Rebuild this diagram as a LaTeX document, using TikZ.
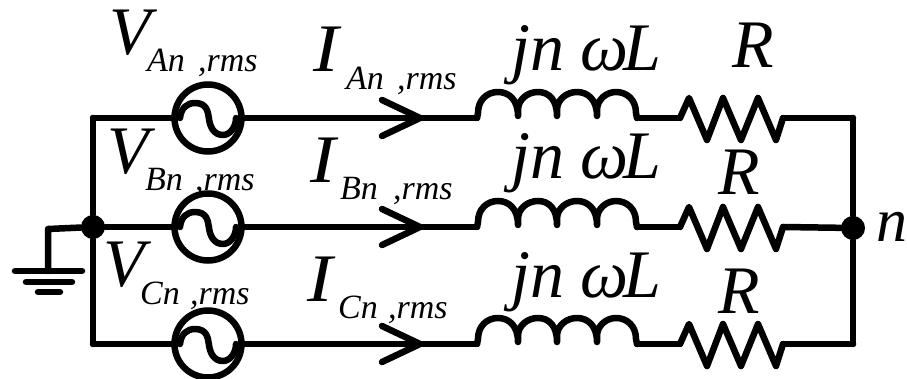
\documentclass[tikz,border=0pt]{standalone}
\usepackage{fontspec}
\setmainfont{Liberation Serif}
\usetikzlibrary{calc}
\tikzset{
  wire/.style={line width=6.5pt,line cap=round,line join=round},
  source/.style={circle,draw,line width=6.5pt,minimum size=67pt,inner sep=0pt},
  dotn/.style={circle,fill,minimum size=24pt,inner sep=0pt},
  big/.style={inner sep=0pt,anchor=base west,font=\fontsize{68}{68}\selectfont\itshape},
  sub/.style={inner sep=0pt,anchor=base west,font=\fontsize{34}{34}\selectfont\itshape}
}
\newcommand{\tight}[1]{\addfontfeatures{LetterSpace=-3}#1}
\newcommand{\wideI}{\scalebox{1.12}[1]{I}}
\begin{document}
\begin{tikzpicture}[x=1pt,y=-1pt]
\useasboundingbox (0,0) rectangle (907,379);
% dots and corners
\node[dotn] (gnd) at (93,227) {};
\node[dotn] (neu) at (853,228) {};
\coordinate (tl) at (93,118);
\coordinate (bl) at (93,344);
\coordinate (tr) at (853,118);
\coordinate (br) at (853,344);
\draw[wire] (tl) -- (gnd) -- (bl);
\draw[wire] (tr) -- (neu) -- (br);
% ground
\coordinate (g1) at (48,229);
\coordinate (g2) at (48,271);
\coordinate (ga) at (15,271); \coordinate (gb) at (82,271);
\coordinate (gc) at (26,282); \coordinate (gd) at (72,282);
\coordinate (ge) at (38,292); \coordinate (gf) at (60,292);
\draw[wire] (gnd) -- (g1) -- (g2);
\draw[wire] (ga) -- (gb);
\draw[wire] (gc) -- (gd);
\draw[wire] (ge) -- (gf);
% branches
\foreach \nm/\y in {A/118,B/227,C/344}{
  \node[source] (s\nm) at (208,\y) {};
  \coordinate (l\nm) at (477,\y);
  \coordinate (m\nm) at (637,\y);
  \coordinate (r\nm) at (680,\y);
  \coordinate (q\nm) at (783,\y);
  \coordinate (t\nm) at (420,\y);
  % sine in the source
  \draw[wire] (180,\y) .. controls (181,\y-10) and (187,\y-15) .. (195,\y-15)
     .. controls (207,\y-15) and (208,\y-6) .. (209,\y+1)
     .. controls (210,\y+9) and (214,\y+17) .. (223,\y+17)
     .. controls (230,\y+17) and (236,\y+9) .. (236,\y);
  % wires
  \draw[wire] (s\nm.east) -- (l\nm);
  \draw[wire] (m\nm) -- (r\nm);
  % arrow
  \draw[wire] (382,\y-18) -- (t\nm) -- (382,\y+18);
  % inductor
  \draw[wire] (l\nm) -- (478,\y-5) .. controls (478,\y-18) and (487,\y-26) .. (498,\y-26)
     .. controls (509,\y-26) and (518,\y-18) .. (518,\y-2) -- (518,\y-8)
     .. controls (518,\y-18) and (527,\y-26) .. (538,\y-26)
     .. controls (549,\y-26) and (557,\y-18) .. (557,\y-2) -- (557,\y-8)
     .. controls (557,\y-18) and (566,\y-26) .. (577,\y-26)
     .. controls (588,\y-26) and (597,\y-18) .. (597,\y-2) -- (597,\y-8)
     .. controls (597,\y-18) and (606,\y-26) .. (616,\y-26)
     .. controls (627,\y-26) and (636,\y-18) .. (636,\y-5) -- (m\nm);
  % resistor
  \draw[wire] (r\nm) -- (689,\y-20) -- (707,\y+22) -- (723,\y-20) -- (741,\y+22)
     -- (758,\y-20) -- (776,\y+22) -- (q\nm);
}
\draw[wire] (qA) -- (tr);
\draw[wire] (qB) -- (neu);
\draw[wire] (qC) -- (br);
\draw[wire] (tl) -- (sA.west);
\draw[wire] (gnd) -- (sB.west);
\draw[wire] (bl) -- (sC.west);
% voltage labels
\node[big] (va) at (109,55) {V};
\node[sub] (vas) at (147,72) {An};
\node[sub] (vasr) at (198,72) {,rms};
\node[big] (vb) at (107,174) {V};
\node[sub] (vbs) at (145,191) {Bn};
\node[sub] (vbsr) at (195,191) {,rms};
\node[big] (vc) at (103,287) {V};
\node[sub] (vcs) at (140,304) {Cn};
\node[sub] (vcsr) at (190,304) {,rms};
% current labels
\node[big] (ia) at (313,72) {\wideI};
\node[sub] (ias) at (346,90) {An};
\node[sub] (iasr) at (397,90) {,rms};
\node[big] (ib) at (310,183) {\wideI};
\node[sub] (ibs) at (340,200) {Bn};
\node[sub] (ibsr) at (393,200) {,rms};
\node[big] (ic) at (307,301) {\wideI};
\node[sub] (ics) at (338,318) {Cn};
\node[sub] (icsr) at (388,318) {,rms};
% impedance labels
\foreach \nm/\b in {a/71,b/179,c/297}{
  \node[big] (j\nm) at (511,\b) {jn};
  \node[big] (w\nm) at (580,\b) {\tight{ω}\kern-5pt L};
}
\node[big] (ra) at (732,68) {R};
\node[big] (rb) at (718,195) {R};
\node[big] (rc) at (718,313) {R};
\node[big,font=\fontsize{62}{62}\selectfont\itshape] (nn) at (876,242) {n};
\end{tikzpicture}
\end{document}
